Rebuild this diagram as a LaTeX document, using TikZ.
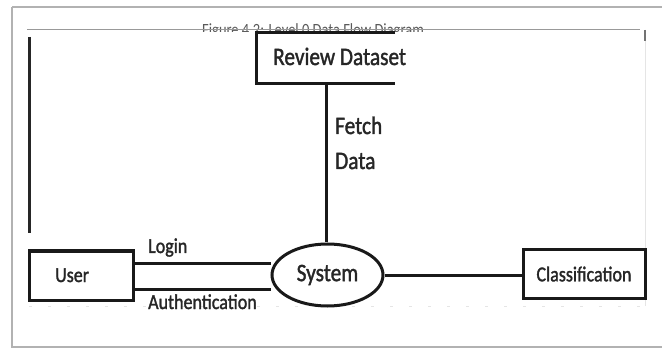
\documentclass[tikz,border=0pt]{standalone}
\usepackage{graphicx}
\usepackage{fontspec}
\setmainfont[FakeBold=1.6]{Carlito}
\newfontfamily\capfont{Carlito}
\usetikzlibrary{shapes.geometric}

% slightly tall lettering
\newcommand{\tall}[1]{\scalebox{1}[1.18]{#1}}

\tikzset{
  ink/.style={draw=black!90, line width=3pt},
  entity/.style={ink, rectangle, inner sep=0pt},
  lbl/.style={inner sep=0pt, anchor=base west, text=black!85},
  big/.style={font=\fontsize{21.3}{24}\selectfont},
  mid/.style={font=\fontsize{18}{21}\selectfont},
  frame/.style={draw=black!30, line width=1.4pt},
}

\begin{document}
\begin{tikzpicture}[x=1pt, y=-1pt]
\useasboundingbox (0,0) rectangle (662,350);
\fill[white] (0,0) rectangle (662,350);

% page frame
\draw[frame] (12,7) -- (680,7);
\draw[frame] (12,7) -- (12,347) -- (680,347);

% caption, partly hidden under the rule
\begin{scope}
  \clip (0,0) rectangle (662,32);
  \node[lbl, text=black!65, font=\capfont\fontsize{14.5}{16}\selectfont] (caption) at (202,36) {\tall{Figure 4.2: Level 0 Data Flow Diagram}};
\end{scope}

% rules of the figure area
\coordinate (ruleL) at (27,30);
\coordinate (ruleR) at (640,30);
\draw[black!40, line width=1pt] (ruleL) -- (ruleR);
\coordinate (tickT) at (645,30);
\coordinate (tickB) at (645,41);
\draw[black!55, line width=1.8pt] (tickT) -- (tickB);
\coordinate (sideT) at (645,41);
\coordinate (sideB) at (645,306);
\draw[black!10, line width=0.8pt] (sideT) -- (sideB);
\coordinate (leftT) at (29.5,37);
\coordinate (leftB) at (29.5,233);
\draw[black!85, line width=2.6pt] (leftT) -- (leftB);
\coordinate (baseL) at (29,306);
\coordinate (baseR) at (645,306);
\draw[black!10, line width=1pt, dash pattern=on 3pt off 16pt] (baseL) -- (baseR);

% data store: open on the right
\node[inner sep=0pt, minimum width=138pt, minimum height=50pt] (rd) at (326,58) {};
\draw[ink] (rd.north east) -- (rd.north west) -- (rd.south west) -- (rd.south east);
\node[lbl, big] (rdlbl) at (273,65) {\tall{Review Dataset}};

% process
\node[ink, ellipse, inner sep=0pt, minimum width=111pt, minimum height=62pt, big, text=black!85] (sys) at (327.5,275) {\tall{System}};

% external entities
\node[entity, minimum width=104pt, minimum height=49pt] (user) at (81,275.5) {};
\node[lbl, mid] (userlbl) at (55,282) {\tall{User}};
\node[entity, minimum width=122pt, minimum height=49pt, mid, text=black!85] (cls) at (584,274) {\tall{Classification}};

% flows
\draw[ink] (rd.south) -- (rd.south |- sys.north);
\draw[ink] ([yshift=12.5pt]user.east) -- ([yshift=12.5pt]user.east -| sys.west);
\draw[ink] ([yshift=-13.5pt]user.east) -- ([yshift=-13.5pt]user.east -| sys.west);
\draw[ink] (sys.east) -- (sys.east -| cls.west);

% flow labels
\node[lbl, big] (fetch) at (335,134) {\tall{Fetch}};
\node[lbl, big] (data) at (335,169) {\tall{Data}};
\node[lbl, mid] (login) at (148,253) {\tall{Login}};
\node[lbl, mid] (auth) at (148,309) {\tall{Authentication}};
\end{tikzpicture}
\end{document}
